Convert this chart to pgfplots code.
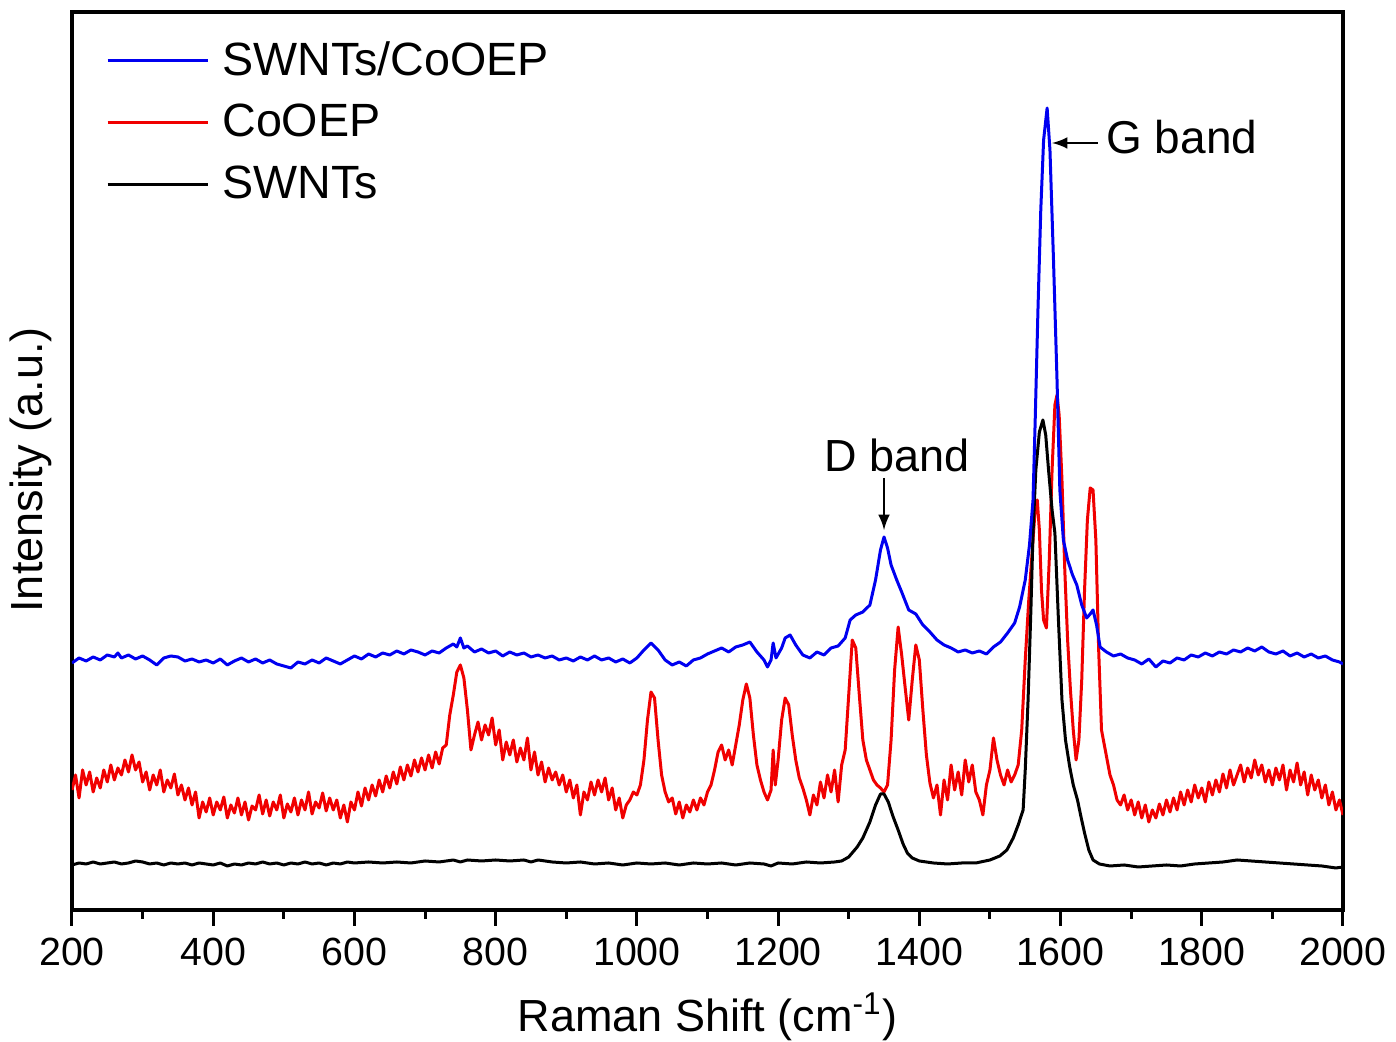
\documentclass[border=0pt]{standalone}
\usepackage{fontspec}
\setmainfont{Liberation Sans}
\usepackage{pgfplots}
\pgfplotsset{compat=1.18}

\definecolor{cblue}{RGB}{0,0,240}
\definecolor{cred}{RGB}{240,0,0}

\begin{document}
\begin{tikzpicture}
\begin{axis}[
  name=ax,
  scale only axis,
  width=381.3pt, height=269.4pt,
  xmin=200, xmax=2000, ymin=0, ymax=898,
  xtick={200,400,...,2000},
  minor x tick num=1,
  ytick=\empty,
  xtick pos=left,
  tick align=outside,
  major tick length=4.8pt,
  minor tick length=2.6pt,
  every tick/.style={black, line width=0.9pt},
  axis line style={line width=1.1pt},
  /pgf/number format/assume math mode=true,
  /pgf/number format/1000 sep={},
  tick label style={font=\fontsize{11.8}{14}\selectfont},
  xlabel={Raman Shift (cm\textsuperscript{-1})},
  ylabel={Intensity (a.u.)},
  xlabel style={font=\fontsize{13.5}{15}\selectfont, at={(axis description cs:0.5,0)}, anchor=base, yshift=-36.6pt},
  ylabel style={font=\fontsize{13.5}{15}\selectfont, at={(axis description cs:-0.032,0.49)}, anchor=center},
  legend style={at={(axis description cs:0,1)}, anchor=north west, xshift=7pt, yshift=-4.6pt,
    draw=none, fill=none, font=\fontsize{14}{16.8}\selectfont, row sep=3.2pt, column sep=2pt,
    nodes={inner sep=2pt}},
  legend cell align=left,
  legend image code/.code={\draw[#1, line width=0.9pt] (0pt,0pt) -- (30pt,0pt);},
  every axis plot/.append style={line width=0.9pt, line join=round},
]

% CoOEP
\addplot[cred, forget plot] table {
200 120
205 135
210 112
215 140
220 125
225 138
230 118
235 132
240 122
245 140
250 128
255 145
260 130
265 142
270 135
275 150
280 138
285 155
290 140
295 148
300 128
305 138
310 120
315 135
320 125
325 140
330 118
335 130
340 122
345 136
350 115
355 125
360 110
365 122
370 105
375 118
380 92
385 108
390 98
395 112
400 95
405 108
410 100
415 113
420 92
425 105
430 97
435 112
440 95
445 108
450 90
455 104
460 100
465 115
470 96
475 110
480 94
485 108
490 100
495 115
500 92
505 106
510 98
515 112
520 95
525 110
530 100
535 118
540 96
545 108
550 102
555 117
560 99
565 112
570 100
575 110
580 92
585 105
590 88
595 108
600 100
605 118
610 104
615 122
620 110
625 125
630 114
635 130
640 118
645 134
650 122
655 138
660 126
665 143
670 130
675 145
680 134
685 150
690 138
695 152
700 140
705 155
710 142
715 158
720 146
725 162
730 165
735 195
740 215
745 238
750 245
755 232
760 200
765 160
770 175
775 188
780 170
785 185
790 175
795 192
800 165
805 180
810 150
815 168
820 155
825 170
830 148
835 162
840 150
845 172
850 140
855 158
860 135
865 148
870 128
875 142
880 130
885 138
890 125
895 135
900 118
905 130
910 112
915 125
920 95
925 118
930 110
935 128
940 115
945 130
950 118
955 132
960 110
965 122
970 100
975 112
980 92
985 105
990 110
995 118
1000 115
1005 125
1010 150
1015 190
1020 218
1025 212
1030 170
1035 135
1040 118
1045 108
1050 112
1055 96
1060 108
1065 92
1070 105
1075 98
1080 110
1085 100
1090 112
1095 105
1100 118
1105 125
1110 140
1115 158
1120 165
1125 150
1130 160
1135 145
1140 165
1145 185
1150 210
1155 226
1160 212
1165 175
1170 145
1175 130
1180 118
1185 110
1190 120
1193 160
1196 125
1200 150
1205 190
1210 212
1215 205
1220 175
1225 150
1230 132
1235 122
1240 110
1245 95
1250 115
1255 105
1260 128
1265 112
1270 135
1275 118
1280 140
1285 108
1290 145
1295 160
1300 215
1305 270
1310 262
1315 215
1320 170
1325 150
1330 140
1335 130
1340 125
1345 122
1350 118
1355 125
1360 170
1365 240
1370 283
1375 255
1380 222
1385 190
1390 230
1395 265
1400 250
1405 200
1410 155
1415 127
1420 112
1425 125
1430 95
1435 130
1440 110
1445 145
1450 120
1455 138
1460 115
1465 150
1470 128
1475 145
1480 118
1485 110
1490 95
1495 125
1500 140
1505 172
1510 150
1515 135
1520 125
1525 140
1530 128
1535 135
1540 145
1545 180
1550 250
1555 310
1560 360
1564 400
1567 410
1570 380
1573 320
1576 290
1580 282
1584 350
1588 440
1592 505
1595 515
1598 495
1602 430
1606 340
1610 270
1614 220
1618 180
1622 150
1626 170
1630 230
1634 320
1638 390
1642 422
1646 420
1650 370
1654 260
1658 180
1662 165
1666 150
1670 135
1675 125
1680 110
1685 105
1690 115
1695 100
1700 110
1705 95
1710 108
1715 92
1720 105
1725 88
1730 100
1735 92
1740 106
1745 95
1750 110
1755 98
1760 112
1765 100
1770 118
1775 105
1780 120
1785 108
1790 125
1795 112
1800 122
1805 108
1810 128
1815 115
1820 130
1825 118
1830 136
1835 122
1840 140
1845 125
1850 135
1855 145
1860 128
1865 142
1870 132
1875 150
1880 135
1885 145
1890 128
1895 140
1900 125
1905 142
1910 130
1915 145
1920 120
1925 140
1930 128
1935 147
1940 125
1945 138
1950 115
1955 135
1960 120
1965 130
1970 112
1975 125
1980 105
1985 118
1990 100
1995 110
2000 95
};

% SWNTs
\addplot[black, forget plot] table {
200 45
210 47
220 46
230 48
240 46
250 47
260 48
270 46
280 47
290 49
300 48
310 46
320 47
330 45
340 47
350 46
360 47
370 45
380 47
390 46
400 45
410 47
420 44
430 46
440 45
450 47
460 46
470 48
480 46
490 47
500 45
510 47
520 46
530 48
540 46
550 47
560 45
570 47
580 46
590 48
600 47
620 48
640 47
660 48
680 47
700 49
720 48
740 50
750 48
760 50
780 49
800 50
820 49
840 50
850 48
860 50
880 48
900 47
920 48
940 46
960 47
980 45
1000 47
1020 46
1040 47
1060 45
1080 47
1100 46
1120 47
1140 45
1160 47
1180 46
1190 44
1200 47
1220 46
1240 48
1260 47
1280 48
1290 49
1300 53
1312 63
1320 72
1330 88
1338 105
1345 116
1350 116
1356 108
1363 93
1370 80
1377 66
1383 57
1390 52
1400 49
1420 47
1440 46
1460 47
1480 47
1500 50
1514 54
1524 60
1533 72
1540 85
1547 100
1550 140
1554 210
1558 300
1561 377
1565 440
1570 478
1575 490
1579 475
1583 440
1588 400
1592 377
1597 290
1602 210
1607 170
1613 143
1618 125
1624 110
1629 93
1634 77
1640 60
1646 50
1655 46
1670 44
1690 45
1710 43
1730 44
1750 45
1770 44
1790 46
1810 47
1830 48
1850 50
1870 49
1890 48
1910 47
1930 46
1950 45
1970 44
1990 42
2000 43
};

% SWNTs/CoOEP
\addplot[cblue, forget plot] table {
200 247
210 252
220 249
230 253
240 250
250 255
260 253
265 257
270 252
280 255
290 251
300 254
310 250
320 245
330 252
340 254
350 253
360 249
370 251
380 248
390 250
400 247
410 251
420 245
430 249
440 252
450 248
460 251
470 247
480 250
490 246
500 244
510 242
520 248
530 246
540 250
550 247
560 252
570 249
580 246
590 250
600 254
610 251
620 256
630 253
640 257
650 255
660 259
670 256
680 260
690 258
700 255
710 259
720 257
730 262
740 266
745 263
750 272
755 262
760 264
770 258
780 261
790 257
800 259
810 254
820 258
830 255
840 257
850 253
860 255
870 252
880 254
890 250
900 252
910 249
920 253
930 250
940 254
950 250
960 252
970 248
980 251
990 247
1000 252
1010 260
1020 267
1030 260
1040 250
1050 245
1060 248
1070 244
1080 250
1090 252
1100 256
1110 259
1120 262
1130 258
1140 263
1150 265
1160 268
1170 258
1180 250
1185 243
1190 250
1193 267
1197 252
1205 262
1210 272
1217 275
1225 265
1235 255
1245 252
1255 258
1265 255
1275 262
1285 264
1295 272
1302 290
1310 295
1320 298
1330 305
1338 330
1345 360
1350 373
1355 362
1360 345
1368 330
1375 318
1385 300
1395 296
1405 285
1415 278
1425 270
1435 265
1445 262
1455 258
1465 260
1475 257
1485 259
1495 256
1505 263
1515 268
1525 277
1535 287
1542 303
1550 330
1556 365
1561 410
1564 487
1568 600
1572 700
1576 770
1581 802
1585 760
1590 650
1595 530
1599 420
1604 370
1610 350
1617 335
1623 325
1630 305
1637 292
1642 296
1646 300
1651 285
1656 263
1665 258
1675 254
1685 256
1695 252
1705 250
1715 246
1725 251
1735 243
1745 249
1755 247
1765 252
1775 250
1785 255
1795 253
1805 257
1815 254
1825 258
1835 256
1845 260
1855 258
1865 262
1875 259
1885 263
1895 258
1905 256
1915 259
1925 254
1935 257
1945 253
1955 256
1965 252
1975 254
1985 250
1995 248
2000 246
};

% legend entries
\addlegendimage{cblue}
\addlegendentry{SWNTs/CoOEP}
\addlegendimage{cred}
\addlegendentry{CoOEP}
\addlegendimage{black}
\addlegendentry{SWNTs}

% band annotations
\draw[-latex, line width=0.6pt] (axis cs:1653,767) -- (axis cs:1588,767);
\node[anchor=west, font=\fontsize{13.8}{16}\selectfont, inner sep=0pt] at (axis cs:1664,773) {G band};
\draw[-latex, line width=0.6pt] (axis cs:1350,432) -- (axis cs:1350,380);
\node[anchor=base, font=\fontsize{13.5}{16}\selectfont, inner sep=0pt] at (axis cs:1368,438) {D band};
\end{axis}
\pgfresetboundingbox
\path[use as bounding box] ([shift={(-21.6pt,-39.6pt)}]ax.south west) rectangle ([shift={(15.9pt,3.6pt)}]ax.north east);
\end{tikzpicture}
\end{document}
